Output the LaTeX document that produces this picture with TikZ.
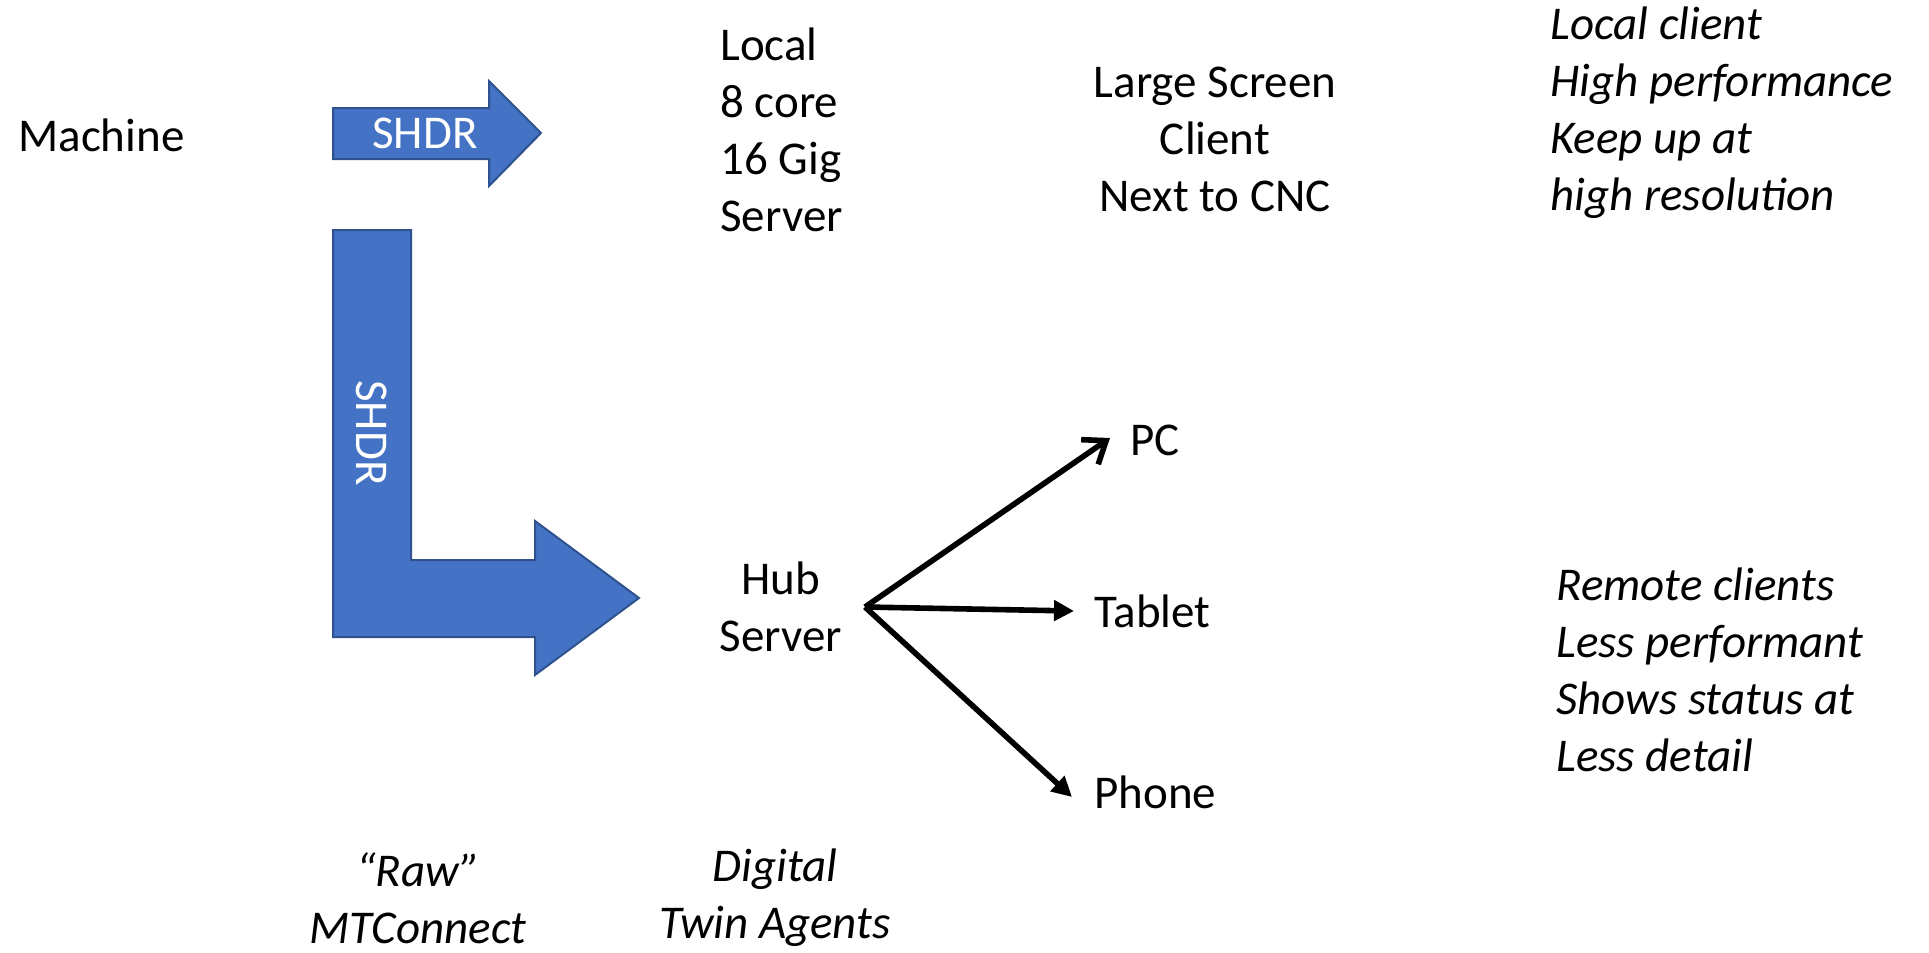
\documentclass[tikz,border=0pt]{standalone}
\usepackage{fontspec}
\setmainfont{Carlito}
\usepackage{tikz}
\usetikzlibrary{arrows.meta}
\definecolor{shdrblue}{HTML}{4472C4}
\definecolor{shdredge}{HTML}{2F528F}
\begin{document}
\begin{tikzpicture}[x=0.5pt,y=-0.5pt,
    txt/.style={inner sep=0pt,font=\fontsize{23.5}{28.5}\selectfont},
    note/.style={txt,align=left,anchor=west,font=\fontsize{23.5}{28.5}\selectfont\itshape},
    band/.style={fill=shdrblue,draw=shdredge,line width=1pt,line join=miter},
    lbl/.style={txt,text=white},
    arr/.style={line width=2.8pt,-{Triangle[length=10pt,width=10pt]}},
    barb/.style={line width=2.8pt,-{Straight Barb[length=10pt,width=15pt,line width=2.8pt]}}]
\useasboundingbox (0,0) rectangle (1929,953);
% blue SHDR arrows
\draw[band] (333,108) -- (489,108) -- (489,81) -- (541,133) -- (489,186)
  -- (489,159) -- (333,159) -- cycle;
\draw[band] (333,230) -- (411,230) -- (411,560) -- (535,560) -- (535,521)
  -- (639,598) -- (535,675) -- (535,637) -- (333,637) -- cycle;
\node[lbl] (shdr1) at (425,133) {SHDR};
\node[lbl,rotate=-90] (shdr2) at (372,433) {SHDR};
% text blocks
\node[txt,anchor=west] (machine) at (18,135) {Machine};
\node[txt,align=left,anchor=west] (local) at (720,130) {Local\\8 core\\16 Gig\\Server};
\node[txt,align=center] (screen) at (1215,139) {Large Screen\\Client\\Next to CNC};
\node[note] (fast) at (1550,113) {Local client\\High performance\\Keep up at\\high resolution};
\node[txt,align=center] (hub) at (781,607) {Hub\\Server};
\node[txt,anchor=west] (pc) at (1130,440) {PC};
\node[txt,anchor=west] (tablet) at (1094,611) {Tablet};
\node[txt,anchor=west] (phone) at (1094,792) {Phone};
\node[note] (slow) at (1556,670) {Remote clients\\Less performant\\Shows status at\\Less detail};
\node[note,align=center,anchor=center] (raw) at (418,898) {“Raw”\\MTConnect};
\node[note,align=center,anchor=center] (twin) at (775,898) {Digital\\Twin Agents};
% fan out from the hub
\coordinate (fan) at (865,607);
\coordinate (pcend) at (1110,438);
\coordinate (tabend) at (1074,611);
\coordinate (phend) at (1072,797);
\draw[barb] (fan) -- (pcend);
\draw[arr] (fan) -- (tabend);
\draw[arr] (fan) -- (phend);
\end{tikzpicture}
\end{document}
